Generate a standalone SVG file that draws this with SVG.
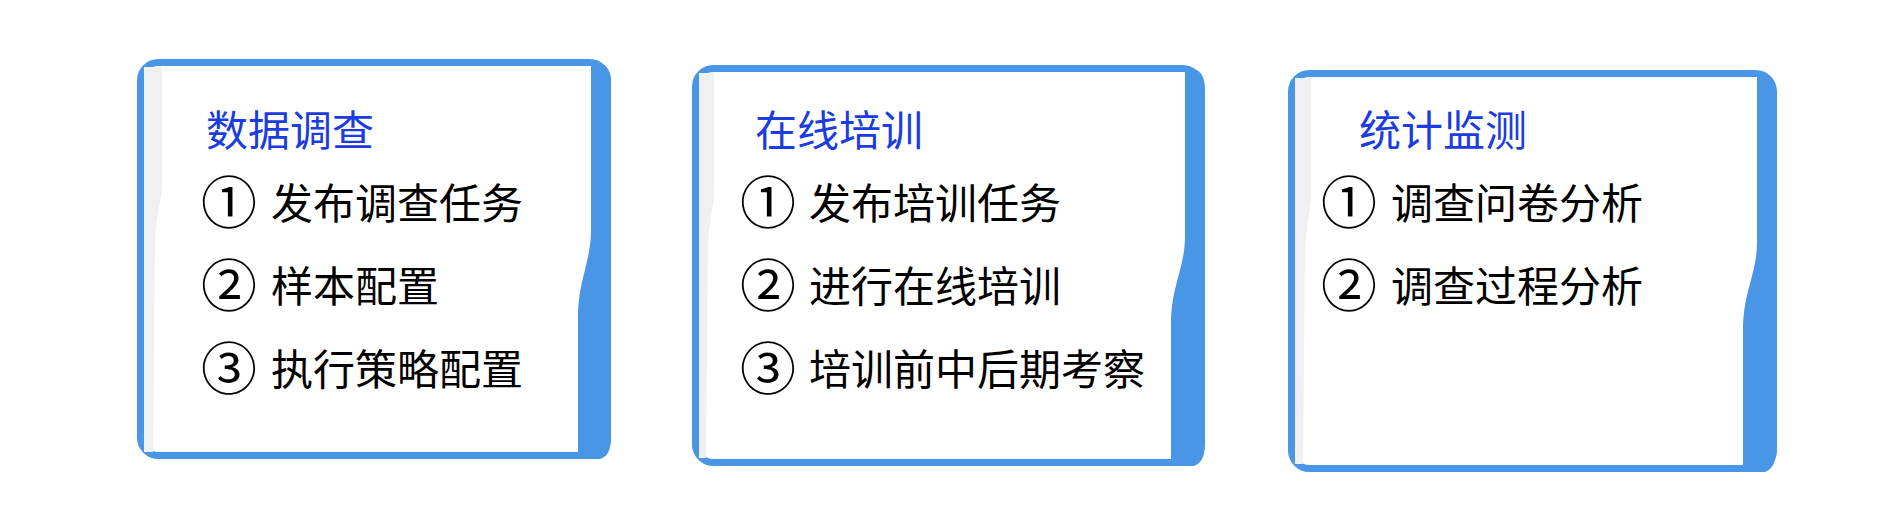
<svg xmlns="http://www.w3.org/2000/svg" width="1880" height="516" viewBox="0 0 1880 516">
<style>
.frame{fill:#ffffff;stroke:#4A96E6;stroke-width:7}
.strip{fill:#4A96E6}
.curl{fill:#F0F0F3}
.title{font-family:"Noto Sans CJK SC","Noto Sans CJK TC",sans-serif;font-size:42px;fill:#1A3CE0}
.item{font-family:"Noto Sans CJK SC","Noto Sans CJK TC",sans-serif;font-size:42px;fill:#000000}
.num{font-family:"Noto Sans CJK SC","Noto Sans CJK TC",sans-serif;font-size:56px;fill:#000000}
</style>
<rect width="1880" height="516" fill="#ffffff"/>
<g id="node-data-survey">
<rect class="frame" x="140.5" y="62.5" width="467" height="393" rx="18"/>
<path class="curl" d="M144,67 L162,67 L162,183 C162,200 156,215 155,240 L153,452 L144,452 Z"/>
<path class="strip" d="M591,63 L600,63 Q611,66 611,84 L611,438 Q611,456 600,459 L578,459 L578,318 C578,280 591,262 591,230 Z"/>
<text class="title" x="206" y="146">数据调查</text>
<text class="num" x="201" y="223">①</text>
<text class="item" x="271" y="219">发布调查任务</text>
<text class="num" x="201" y="306">②</text>
<text class="item" x="271" y="302">样本配置</text>
<text class="num" x="201" y="389">③</text>
<text class="item" x="271" y="385">执行策略配置</text>
</g>
<g id="node-online-training">
<rect class="frame" x="695.5" y="68.5" width="505" height="394" rx="18"/>
<path class="curl" d="M699,73 L714,73 L714,189 C714,206 709,221 708,246 L706,458 L699,458 Z"/>
<path class="strip" d="M1185,69 L1194,69 Q1205,72 1205,90 L1205,444 Q1205,462 1194,466 L1171,466 L1171,324 C1171,286 1185,268 1185,236 Z"/>
<text class="title" x="755" y="146">在线培训</text>
<text class="num" x="740" y="223">①</text>
<text class="item" x="809" y="219">发布培训任务</text>
<text class="num" x="740" y="306">②</text>
<text class="item" x="809" y="302">进行在线培训</text>
<text class="num" x="740" y="389">③</text>
<text class="item" x="809" y="385">培训前中后期考察</text>
</g>
<g id="node-statistics">
<rect class="frame" x="1291.5" y="73.5" width="482" height="395" rx="18"/>
<path class="curl" d="M1295,78 L1311,78 L1311,194 C1311,211 1306,226 1305,251 L1303,464 L1295,464 Z"/>
<path class="strip" d="M1757,74 L1765,74 Q1776,77 1776,95 L1776,450 Q1776,468 1765,472 L1743,472 L1743,330 C1743,292 1757,274 1757,242 Z"/>
<text class="title" x="1359" y="146">统计监测</text>
<text class="num" x="1321" y="223">①</text>
<text class="item" x="1391" y="219">调查问卷分析</text>
<text class="num" x="1321" y="306">②</text>
<text class="item" x="1391" y="302">调查过程分析</text>
</g>
<g id="connectors"></g>
</svg>
